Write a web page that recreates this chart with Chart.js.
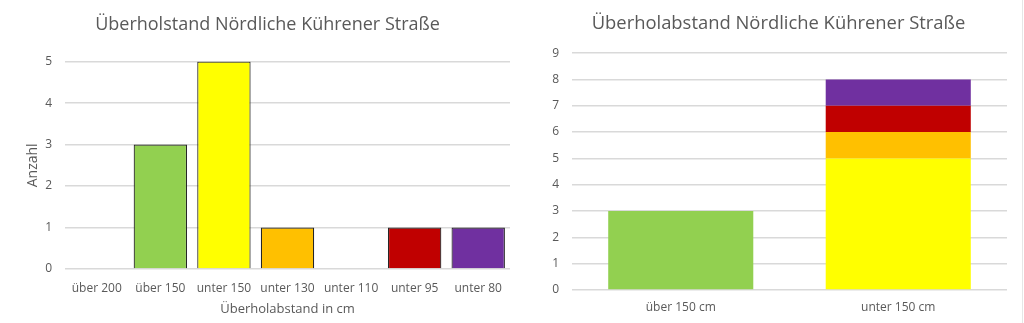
<!DOCTYPE html>
<html>
<head>
<meta charset="utf-8">
<script src="https://cdn.jsdelivr.net/npm/chart.js@4.4.1/dist/chart.umd.min.js"></script>
<style>
  html, body { margin: 0; padding: 0; background: #fff; }
  body { width: 1024px; height: 323px; position: relative; overflow: hidden; }
  .box { position: absolute; top: 0; height: 323px; }
  #left { left: 0; width: 520px; }
  #right { left: 532px; width: 490px; border-right: 1px solid #e6e6e6; }
</style>
</head>
<body>
<div class="box" id="left"><canvas id="chartLeft" width="520" height="323"></canvas></div>
<div class="box" id="right"><canvas id="chartRight" width="490" height="323"></canvas></div>
<script>
// Überholabstand in cm, Anzahl je Klasse
const classLabels = ['über 200', 'über 150', 'unter 150', 'unter 130', 'unter 110', 'unter 95', 'unter 80'];
const classCounts = [0, 3, 5, 1, 0, 1, 1];
const classColors = ['#92D050', '#92D050', '#FFFF00', '#FFC000', '#FFC000', '#C00000', '#7030A0'];

// Zusammengefasst: über / unter 150 cm
const groupLabels = ['über 150 cm', 'unter 150 cm'];
const groupOver150 = [3, 0];
const groupUnder150 = [0, 5];
const groupUnder130 = [0, 1];
const groupUnder95 = [0, 1];
const groupUnder80 = [0, 1];

const textGray = '#595959';
const gridGray = '#d9d9d9';

Chart.defaults.font.family = "'Open Sans', sans-serif";
Chart.defaults.color = textGray;

new Chart('chartLeft', {
  type: 'bar',
  data: {
    labels: classLabels,
    datasets: [{
      data: classCounts,
      backgroundColor: classColors,
      borderColor: '#262626',
      borderWidth: 1.2,
      barPercentage: 0.84,
      categoryPercentage: 1,
    }],
  },
  options: {
    responsive: false,
    animation: false,
    layout: { padding: { left: 25, right: 10, top: 0, bottom: 0 } },
    plugins: {
      legend: { display: false },
      tooltip: { enabled: false },
      title: {
        display: true,
        text: 'Überholstand Nördliche Kührener Straße',
        color: textGray,
        font: { size: 18, weight: 'normal' },
        padding: { top: 14, bottom: 26 },
      },
    },
    scales: {
      x: {
        afterFit: (s) => { s.height = 54; },
        grid: { display: false, drawTicks: false },
        border: { display: false },
        ticks: { font: { size: 12 }, color: textGray, padding: 12 },
        title: { display: true, text: 'Überholabstand in cm', font: { size: 13 }, color: textGray, padding: { top: 0, bottom: 6 } },
      },
      y: {
        afterFit: (s) => { s.width = 40; },
        min: 0,
        max: 5,
        grid: { color: gridGray, drawTicks: false, lineWidth: 1.5 },
        border: { display: false },
        ticks: { stepSize: 1, font: { size: 12 }, color: textGray, padding: 13 },
        title: { display: true, text: 'Anzahl', font: { size: 14 }, color: textGray, padding: 0 },
      },
    },
  },
});

new Chart('chartRight', {
  type: 'bar',
  data: {
    labels: groupLabels,
    datasets: [
      { data: groupOver150, backgroundColor: '#92D050' },
      { data: groupUnder150, backgroundColor: '#FFFF00' },
      { data: groupUnder130, backgroundColor: '#FFC000' },
      { data: groupUnder95, backgroundColor: '#C00000' },
      { data: groupUnder80, backgroundColor: '#7030A0' },
    ],
  },
  options: {
    responsive: false,
    animation: false,
    datasets: { bar: { barPercentage: 0.667, categoryPercentage: 1, borderWidth: 0 } },
    layout: { padding: { left: 18, right: 15, top: 0, bottom: 0 } },
    plugins: {
      legend: { display: false },
      tooltip: { enabled: false },
      title: {
        display: true,
        text: 'Überholabstand Nördliche Kührener Straße',
        color: textGray,
        font: { size: 18.4, weight: 'normal' },
        padding: { top: 13, bottom: 18 },
      },
    },
    scales: {
      x: {
        afterFit: (s) => { s.height = 33; },
        stacked: true,
        grid: { display: false, drawTicks: false },
        border: { display: false },
        ticks: { font: { size: 12 }, color: textGray, padding: 10 },
      },
      y: {
        afterFit: (s) => { s.width = 22; },
        stacked: true,
        min: 0,
        max: 9,
        grid: { color: gridGray, drawTicks: false, lineWidth: 1.5 },
        border: { display: false },
        ticks: { stepSize: 1, font: { size: 12 }, color: textGray, padding: 13 },
      },
    },
  },
});
</script>
</body>
</html>
